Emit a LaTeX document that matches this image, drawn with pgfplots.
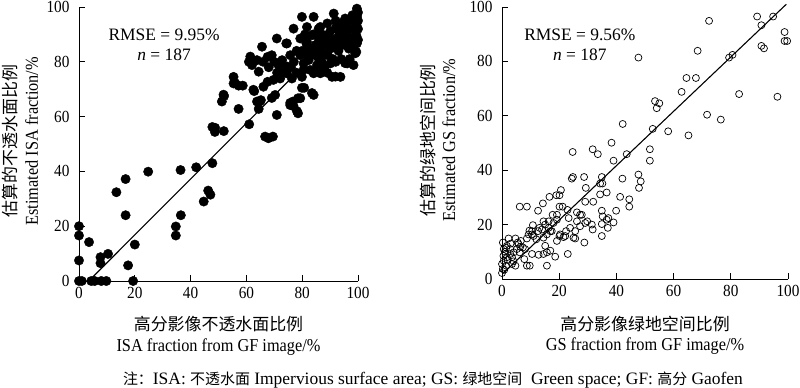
\documentclass[border=0pt]{standalone}
\usepackage{fontspec}
\setmainfont{Liberation Serif}[FakeStretch=0.9]
\newfontfamily\plainrm{Liberation Serif}
\newfontfamily\cjk{Noto Sans CJK SC}
\usepackage{pgfplots}
\pgfplotsset{compat=1.18}
\pgfplotsset{
  myax/.style={
    scale only axis, clip=false,
    xmin=0,xmax=100,ymin=0,ymax=100,
    axis lines=left, axis line style={-, line width=0.8bp},
    xtick={0,20,...,100}, ytick={0,20,...,100},
    tick align=inside, major tick length=6bp, tick style={line width=0.8bp, black},
    /pgf/number format/assume math mode=true,
    ticklabel style={font=\fontsize{17}{19}\selectfont},
    xticklabel style={yshift=-3bp},
    yticklabel style={xshift=-6bp},
    label style={font=\fontsize{18.2}{21}\selectfont, align=center},
  }
}
\begin{document}
\begin{tikzpicture}
\path[use as bounding box] (0,0) rectangle (800bp,388bp);
\begin{axis}[myax, at={(79bp,107bp)}, width=279bp, height=274bp,
  xlabel={{\cjk\fontsize{17}{21}\selectfont 高分影像不透水面比例}\\ISA fraction from GF image/\%},
  xlabel style={at={(axis description cs:0.5,-0.199)}, anchor=center},
  ylabel={{\cjk\fontsize{17}{21}\selectfont 估算的不透水面比例}\\Estimated ISA fraction/\%},
  ylabel style={at={(axis description cs:-0.21,0.51)}, anchor=center},
]
\addplot[only marks, mark=*, mark size=4.7bp, black] coordinates {
(0,20) (0,16.6) (3.6,14.2) (0,7.5) (0,0) (1,0) (4.4,0) (5.6,0) (8,0) (9.8,0)
(7.7,8.7) (7.7,6.5) (10.4,9.9) (17.6,5.7) (19.4,0) (20,13.3) (13.4,32.4) (16.7,37.2)
(16.7,24) (24.8,39.9) (34.7,19.9) (34.7,16.6) (36.5,24) (36.4,40.5) (42,41.5) (44.7,29)
(46.3,33) (47.1,31.5) (47.8,43) (47.8,56.2) (48.7,54.4) (51.9,54.7) (61,57.2)
(51.2,65.5) (52,67.5) (55.4,74.5) (55.4,72.1) (57.2,71.3) (58.7,71.3) (57.2,62.8)
(60.9,80) (62,78.8) (63.8,80.6) (61.4,81.9) (62.8,69.3) (63.8,65.5) (64.4,62.8)
(65.2,66) (64.4,76.4) (65.6,85.5) (67.6,81.8) (66.1,70.9) (67.6,72.7) (66.7,52.7)
(67.9,52.1) (69.5,52.7) (70.3,67.9) (70.9,60.6) (69.1,82.4) (70.9,88.5) (71.5,78.8)
(72.1,73.9) (72.8,80.6) (74.3,86.7) (74.5,77.6) (75.7,82.4) (74.5,75.8) (76.9,92.1)
(76.3,73.9) (75.7,64.2) (76.7,65.5) (78.5,66.7) (78.5,61.2) (79.3,82.4) (80.5,79.4)
(79.9,74.5) (79.9,70.5) (80.7,70.5) (79.3,66.7) (79.9,96.4) (81.5,86.7) (82.3,84.8)
(81.7,92.7) (83.5,89.7) (84.1,96.4) (84.1,67.9) (84.7,82.4) (85.3,78.8) (86.5,75.8)
(85.9,81.2) (86.5,92.7) (87.1,86.1) (88.3,88.5) (89.2,82.4) (90.1,79.4) (90.7,74.5)
(93.7,74.5) (91.3,97.6) (91.9,92.1) (93.1,89.1) (94.9,94.5) (96.1,89.7) (95.5,86.1)
(96.1,79.4) (98.4,78.8) (99.6,99.4) (99.6,96.4) (99.4,93.3) (99.4,89.7) (99.6,86.7)
(99.4,83.6) (97.2,92.1) (97.8,88.5) (96.7,84.8) (92.5,86.1) (90.1,84.8) (88.9,89.7)
(86.5,83.6) (82.3,80.6) (82.9,77) (95.4,95.8) (85.9,92.1) (92.5,93.4) (93.7,90.3)
(74.5,86.7) (79.3,88.5) (81.7,87.3) (84.7,86.1) (88.9,87.9) (99,83.1) (95.4,79.5)
(91.9,74.6) (84.1,75.8) (80.5,77.1) (74.5,78.3) (72.1,79.5) (56,72.2) (62.5,69.8)
(69.7,73.4) (51.8,68) (64.9,65.6) (69.1,66.8) (75.7,65) (76.9,63.8) (83.5,68.6)
(78.1,62) (48.8,55.9)
(77,80) (78,84) (83,84) (87,80) (89,86) (91,88) (93,84) (95,91) (97,95) (98,97)
(99,91) (100,88) (100,95) (100,98) (96,87) (94,81) (90,91) (86,88) (84,90) (82,82)
(80,84) (78,76) (76,78) (73,76) (71,76) (68,78) (70,80) (66,80) (88,78) (91,81)
(94,86) (97,81) (85,85) (87,90) (89,94) (92,95) (95,88)
(88,83) (90,87) (92,80) (93,92) (96,93) (98,86) (86,78) (89,76) (81,90) (100,92)
};
\addplot[black, line width=1.1bp] coordinates {(3.5,0) (100,98.4)};
\node[font=\plainrm\fontsize{17.5}{19}\selectfont] at (axis cs:30.5,89.9) {RMSE = 9.95\%};
\node[font=\plainrm\fontsize{17.5}{19}\selectfont] at (axis cs:30.5,82.6) {\textit{n} = 187};
\end{axis}

\begin{axis}[myax, at={(502bp,109bp)}, width=286bp, height=272bp,
  xlabel={{\cjk\fontsize{17}{21}\selectfont 高分影像绿地空间比例}\\GS fraction from GF image/\%},
  xlabel style={at={(axis description cs:0.5,-0.207)}, anchor=center},
  ylabel={{\cjk\fontsize{17}{21}\selectfont 估算的绿地空间比例}\\Estimated GS fraction/\%},
  ylabel style={at={(axis description cs:-0.2255,0.51)}, anchor=center},
]
\addplot[only marks, mark=o, mark size=3.5bp, black, mark options={line width=0.7bp}] coordinates {
(72.4,94.9) (89.2,96.5) (94.8,96.5) (90.7,93.3) (98.8,90.8) (98.8,87.5) (99.7,87.5)
(90.7,85.7) (91.6,84.8) (47.7,81.4) (68.4,83.9) (79.4,81.4) (80.6,82.4) (64.5,73.9)
(67.8,73.9) (62.8,68.8) (82.9,68) (96.3,67) (53.5,65.4) (55,64.6) (54.1,62.8)
(71.7,60.4) (76.5,58.6) (52.7,55.2) (58.1,54.3) (65.2,52.8) (42.2,57) (38.3,50.1)
(31.7,47.7) (33.5,45.9) (24.7,46.7) (51.7,47.7) (51.7,43.5) (43.6,45.9) (39,43.5)
(24.4,36.9) (24.8,37.5) (28.7,37.5) (29.3,33.5) (34.9,37.5) (34.3,35.1) (35.1,35.1)
(42.1,36.9) (47.7,38.4) (48.5,35.9) (47.9,33.5) (31.9,28.4) (29.1,28.4) (34.3,31.1)
(36.6,31.8) (41.3,30.2) (44.5,29.3) (44.5,26.6) (39.9,25.1) (20.6,32.7) (20.1,30.8)
(16.6,30.2) (19,30.8) (6.2,26.6) (8.7,26.6) (14.3,27.8) (20.1,26.6) (21.2,26.6)
(12.6,25.1) (22.9,25.4) (26.2,24.5) (27.3,23.6) (34.9,25.1) (35.2,23) (36.6,21.8)
(37.2,22.4) (39,20.8) (37,18.8) (34.9,20.2) (34.9,15.8) (31.7,18.2) (31.4,20)
(29.1,20.6) (29.8,21.2) (27.3,19.4) (27.9,23.6) (28.8,13.4) (25.6,14.9) (23.3,22.4)
(23.8,18.8) (22.4,17.6) (20.1,15.8) (21.5,15.4) (19.2,14) (18,20.6) (19.2,21.8)
(16.3,21.2) (16.3,18.8) (16.9,17.6) (14.5,21.2) (15.1,20) (14,18.2) (15.7,16.4)
(14.5,15.2) (13.1,18.8) (12.6,17.6) (15.1,12.2) (18.6,8.2) (15.7,4.9) (15.7,9.8)
(16.9,10.4) (23,9.2) (14.5,9.2) (12.8,8.9) (10.8,19.8) (10.5,17.6) (9.6,17.8)
(9.3,16.4) (8.7,14.9) (10.5,9.2) (8.7,4.9) (9.7,4.9) (7.8,7.3) (6.6,14) (5.5,13.4)
(4.7,14.9) (5.8,12.8) (6.4,11.8) (6.2,9.8) (4.7,4.9) (4.1,9.8) (3.5,8) (2.3,14.9)
(1.7,12.2) (0.3,13.4) (0.6,11) (1.2,9.2) (1.7,8) (0.6,6.7) (0,5.5) (0.3,3.7) (0,2.2)
(0.8,3.4) (1.5,4.9) (2.9,11) (2.9,9.2) (3.5,5.5) (5.2,11) (7.3,11.6) (8.1,11)
(10.5,16.4) (11,15.8) (12,14.6) (17.4,17.6) (17.7,23.6) (19.2,23.6) (20.3,16.4)
(22.1,15.8) (25,15.2) (26.2,21.2) (25.6,17.6)
(1,10) (2,7) (0.5,8.5) (3,13) (4,6.5) (1.5,11.5)
};
\addplot[black, line width=1.1bp] coordinates {(0.3,2) (99.4,101)};
\node[font=\plainrm\fontsize{17.5}{19}\selectfont] at (axis cs:27.2,89.9) {RMSE = 9.56\%};
\node[font=\plainrm\fontsize{17.5}{19}\selectfont] at (axis cs:27.2,82.6) {\textit{n} = 187};
\end{axis}

\node[font=\plainrm\fontsize{17.5}{19}\selectfont] at (433bp,8bp) {{\cjk\fontsize{15}{17}\selectfont 注：}ISA: {\cjk\fontsize{15}{17}\selectfont 不透水面} Impervious surface area; GS: {\cjk\fontsize{15}{17}\selectfont 绿地空间}\ \ Green space; GF: {\cjk\fontsize{15}{17}\selectfont 高分} Gaofen};
\end{tikzpicture}
\end{document}
